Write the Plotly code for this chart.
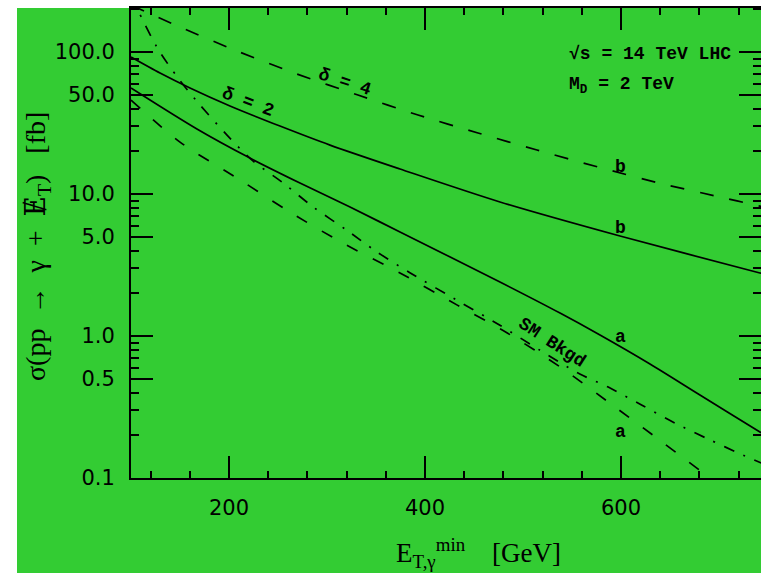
import math
import plotly.graph_objects as go

# ---- data (x: E_T,gamma^min in GeV, y: sigma in fb) ----
d2b_x = [100, 129.6, 160.2, 201.0, 252.0, 303.1, 374.5, 476.5, 599.0, 741.8, 750]
d2b_y = [92.2, 71.1, 55.8, 41.7, 30.1, 22.1, 15.0, 8.79, 5.06, 2.78, 2.69]

d2a_x = [100, 167.3, 221.4, 272.4, 323.5, 374.5, 476.5, 537.8, 578.6, 629.6, 680.6, 741.8, 750]
d2a_y = [55.8, 28.7, 17.9, 11.95, 8.10, 5.40, 2.40, 1.45, 1.016, 0.635, 0.384, 0.211, 0.195]

d4b_x = [100, 150, 208.2, 269.4, 331.6, 392.9, 454.1, 514.3, 576.5, 639.8, 701.0, 741.8, 750]
d4b_y = [214, 150, 101.6, 70.0, 49.8, 36.0, 26.9, 20.4, 15.5, 11.9, 9.53, 8.22, 8.0]

d4a_x = [100, 150, 211, 262, 316, 374.5, 433, 484, 538, 594, 645, 691, 720]
d4a_y = [45.9, 23.2, 12.6, 7.47, 4.52, 2.78, 1.65, 1.05, 0.605, 0.316, 0.173, 0.1, 0.072]

sm_x = [100, 126.5, 148, 170.4, 198, 223.5, 255, 286, 320, 351, 385, 436, 476.5, 517, 558, 587,
        621, 655, 689, 724.5, 750]
sm_y = [248, 108, 65.6, 42.4, 26.0, 17.3, 12.0, 8.09, 5.57, 3.91, 2.78, 1.73, 1.19, 0.796, 0.54,
        0.437, 0.327, 0.244, 0.188, 0.145, 0.122]

x_major = [200, 400, 600]
x_minor = [120, 160, 240, 280, 320, 360, 440, 480, 520, 560, 640, 680, 720]
y_major = [0.1, 0.5, 1.0, 5.0, 10.0, 50.0, 100.0]
y_major_text = ["0.1", "0.5", "1.0", "5.0", "10.0", "50.0", "100.0"]
y_minor = [0.2, 0.3, 0.4, 0.6, 0.7, 0.8, 0.9, 2, 3, 4, 6, 7, 8, 9,
           20, 30, 40, 60, 70, 80, 90, 200]

GREEN = "#33CC33"
LW = 1.7

fig = go.Figure()
common = dict(mode="lines", line_shape="spline", showlegend=False, hoverinfo="skip")
fig.add_trace(go.Scatter(x=d2b_x, y=d2b_y, line=dict(color="black", width=LW, smoothing=0.8), **common))
fig.add_trace(go.Scatter(x=d2a_x, y=d2a_y, line=dict(color="black", width=LW, smoothing=0.8), **common))
fig.add_trace(go.Scatter(x=d4b_x, y=d4b_y, line=dict(color="black", width=LW, dash="14px,16px", smoothing=0.8), **common))
fig.add_trace(go.Scatter(x=d4a_x, y=d4a_y, line=dict(color="black", width=LW, dash="12px,17px", smoothing=0.8), **common))
fig.add_trace(go.Scatter(x=sm_x, y=sm_y, line=dict(color="black", width=LW, dash="11px,10px,2px,10px", smoothing=0.8), **common))

tickfont = dict(family="DejaVu Sans", size=21, color="black")
fig.update_xaxes(
    type="linear", range=[100, 742.9], showline=True, linecolor="black", linewidth=2,
    mirror="allticks", ticks="inside", ticklen=22, tickwidth=1.5, tickcolor="black",
    tickvals=x_major, ticktext=[str(v) for v in x_major], tickfont=tickfont,
    ticklabelstandoff=10, showgrid=False, zeroline=False,
    minor=dict(tickvals=x_minor, ticks="inside", ticklen=7, tickwidth=1.5, tickcolor="black", showgrid=False),
)
fig.update_yaxes(
    type="log", range=[-1, 2.31], showline=True, linecolor="black", linewidth=2,
    mirror="allticks", ticks="inside", ticklen=22, tickwidth=1.5, tickcolor="black",
    tickvals=y_major, ticktext=y_major_text, tickfont=tickfont,
    ticklabelstandoff=10, showgrid=False, zeroline=False,
    minor=dict(tickvals=y_minor, ticks="inside", ticklen=8, tickwidth=1.5, tickcolor="black", showgrid=False),
)

lab = dict(family="Liberation Mono", size=18, color="black")
L = math.log10
anns = [
    dict(x=219, y=L(44.5), text="<b>δ = 2</b>", textangle=21),
    dict(x=318, y=L(62), text="<b>δ = 4</b>", textangle=18),
    dict(x=600, y=L(15.5), text="<b>b</b>"),
    dict(x=600, y=L(5.77), text="<b>b</b>"),
    dict(x=600, y=L(0.985), text="<b>a</b>"),
    dict(x=600, y=L(0.211), text="<b>a</b>"),
    dict(x=530, y=L(0.89), text="<b>SM Bkgd</b>", textangle=33),
]
for a in anns:
    fig.add_annotation(xref="x", yref="y", showarrow=False, font=lab,
                       xanchor="center", yanchor="middle", **a)
fig.add_annotation(xref="x", yref="y", x=545, y=L(96.8), text="<b>√s = 14 TeV LHC</b>",
                   showarrow=False, font=lab, xanchor="left", yanchor="middle")
fig.add_annotation(xref="x", yref="y", x=545, y=L(57.7), text="<b>M<sub>D</sub> = 2 TeV</b>",
                   showarrow=False, font=lab, xanchor="left", yanchor="middle")

# axis titles
fig.add_annotation(xref="paper", yref="paper", x=(478 - 131) / 630, y=(478 - 553) / 470,
                   text="E<sub>T,γ</sub><sup>min</sup>    [GeV]", showarrow=False,
                   font=dict(family="Liberation Serif", size=27, color="black"),
                   xanchor="center", yanchor="middle")
fig.add_annotation(xref="paper", yref="paper", x=(37 - 131) / 630, y=(478 - 247) / 470,
                   text="σ(pp  →  γ  +  <span style='font-family:DejaVu Serif'>Ɇ</span><sub>T</sub>)   [fb]",
                   showarrow=False, textangle=-90,
                   font=dict(family="Liberation Serif", size=28, color="black"),
                   xanchor="center", yanchor="middle")

# white strips outside the green panel
fig.add_shape(type="rect", xref="paper", yref="paper", x0=-131 / 630, x1=-114 / 630,
              y0=-95 / 470, y1=478 / 470, fillcolor="white", line_width=0, layer="below")
fig.add_shape(type="rect", xref="paper", yref="paper", x0=-131 / 630, x1=1.0,
              y0=1.0, y1=478 / 470 + 0.01, fillcolor="white", line_width=0, layer="below")

fig.update_layout(
    width=761, height=573,
    margin=dict(l=131, r=0, t=8, b=95, autoexpand=False),
    paper_bgcolor=GREEN, plot_bgcolor=GREEN,
)

fig.write_html(
    "out.html",
    config={"displayModeBar": False},
    post_script="document.body.style.margin='0';document.documentElement.style.overflow='hidden';",
)
